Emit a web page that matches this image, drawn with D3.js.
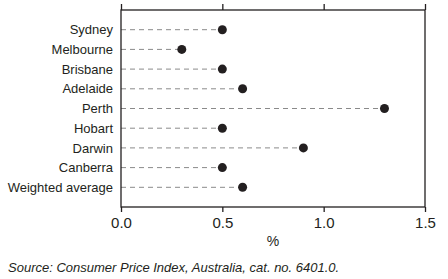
<!DOCTYPE html>
<html>
<head>
<meta charset="utf-8">
<script src="https://cdn.jsdelivr.net/npm/d3@7"></script>
<style>
  body { margin: 0; background: #fff; }
  svg text { fill: #231f20; }
</style>
</head>
<body>
<div id="graf"></div>
<script>
// datos
cities = ['Sydney', 'Melbourne', 'Brisbane', 'Adelaide', 'Perth', 'Hobart', 'Darwin', 'Canberra', 'Weighted average']
values = [0.5, 0.3, 0.5, 0.6, 1.3, 0.5, 0.9, 0.5, 0.6]
xTicks = [0, 0.5, 1.0, 1.5]
xLabel = '%'
source = 'Source: Consumer Price Index, Australia, cat. no. 6401.0.'

ancho_total = 448
alto_total = 279
margins = { top: 10, left: 121, right: 23, bottom: 72 }
ancho = ancho_total - margins.left - margins.right
alto = alto_total - margins.top - margins.bottom

fuente = "'Liberation Sans', Arial, sans-serif"

svg = d3.select('#graf').append('svg')
        .attr('width', ancho_total)
        .attr('height', alto_total)
        .style('font-family', fuente)

g = svg.append('g')
        .attr('transform', `translate(${margins.left}, ${margins.top})`)

x = d3.scaleLinear().domain([0, 1.5]).range([0, ancho])
y = d3.scalePoint().domain(cities).range([0, alto]).padding(1)

// lineas punteadas
g.selectAll('.guia')
        .data(cities)
        .enter().append('line')
        .attr('class', 'guia')
        .attr('x1', 0)
        .attr('x2', (d, i) => x(values[i]))
        .attr('y1', d => y(d))
        .attr('y2', d => y(d))
        .attr('stroke', '#8a8a8a')
        .attr('stroke-width', 1)
        .attr('stroke-dasharray', '5,4')

// caja
g.append('rect')
        .attr('x', 0).attr('y', 0)
        .attr('width', ancho).attr('height', alto)
        .attr('fill', 'none')
        .attr('stroke', '#231f20')
        .attr('stroke-width', 1.3)

// ejes
xAxisBottom = d3.axisBottom(x).tickValues(xTicks).tickFormat(d3.format('.1f')).tickSize(5).tickPadding(5)
g.append('g')
        .attr('transform', `translate(0, ${alto})`)
        .call(xAxisBottom)
        .call(s => s.select('.domain').remove())
        .call(s => s.selectAll('line').attr('stroke', '#231f20').attr('stroke-width', 1.3))
        .call(s => s.selectAll('text').style('font-size', '15px').style('font-family', fuente).attr('fill', '#231f20'))

xAxisTop = d3.axisTop(x).tickValues(xTicks).tickFormat('').tickSize(6)
g.append('g')
        .call(xAxisTop)
        .call(s => s.select('.domain').remove())
        .call(s => s.selectAll('line').attr('stroke', '#231f20').attr('stroke-width', 1.3))

yAxis = d3.axisLeft(y).tickSize(0).tickPadding(8)
g.append('g')
        .call(yAxis)
        .call(s => s.select('.domain').remove())
        .call(s => s.selectAll('text').style('font-size', '13px').style('font-family', fuente).attr('fill', '#231f20'))

// puntos
g.selectAll('.punto')
        .data(cities)
        .enter().append('circle')
        .attr('class', 'punto')
        .attr('cx', (d, i) => x(values[i]))
        .attr('cy', d => y(d))
        .attr('r', 4.5)
        .attr('fill', '#231f20')

svg.append('text')
        .attr('x', margins.left + x(0.75))
        .attr('y', 246)
        .attr('text-anchor', 'middle')
        .style('font-size', '14px')
        .text(xLabel)

svg.append('text')
        .attr('x', 8)
        .attr('y', 272)
        .style('font-size', '13px')
        .style('font-style', 'italic')
        .text(source)
</script>
</body>
</html>
